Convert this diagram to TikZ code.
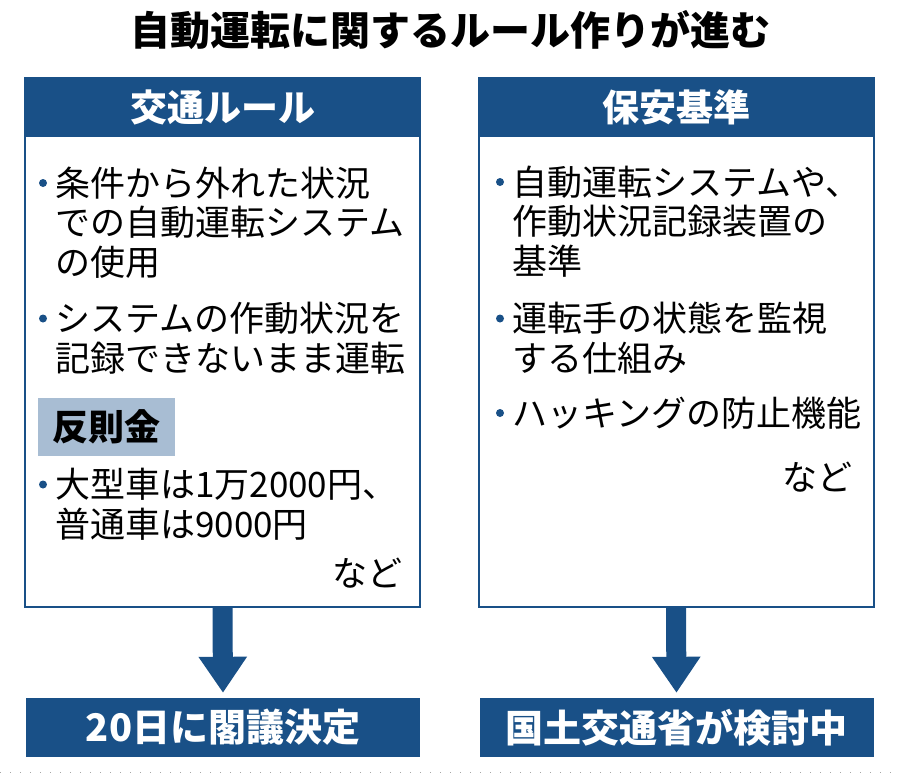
\documentclass[tikz,border=0pt]{standalone}
\usepackage{fontspec}
\setmainfont{Noto Sans CJK JP}
\usetikzlibrary{arrows.meta}
\definecolor{navy}{RGB}{25,80,135}
\definecolor{paleblue}{RGB}{168,189,211}
\newcommand{\fs}[1]{\fontsize{#1}{39.5}\selectfont}

\begin{document}
\begin{tikzpicture}[x=1pt,y=-1pt,
    panel/.style={draw=navy,line width=2pt,minimum width=395pt,minimum height=529pt,inner sep=0pt},
    head/.style={fill=navy,text=white,font=\fs{37}\bfseries,minimum width=397pt,minimum height=59pt,inner sep=0pt},
    result/.style={fill=navy,text=white,font=\fs{38}\bfseries,minimum width=394pt,minimum height=59pt,inner sep=0pt},
    item/.style={anchor=base west,align=left,inner sep=0pt,font=\fs{35}},
    etc/.style={anchor=base east,inner sep=0pt,font=\fs{35}},
    dot/.style={fill=navy},
    flow/.style={navy,line width=20pt,-{Triangle[width=46pt,length=36pt]},shorten >=5pt}]
    \useasboundingbox (0,0) rectangle (900,774);
    \node[font=\fs{40}\bfseries,inner sep=0pt] (title) at (450,30)
      {自動運転に関するルール作りが進む};
    % left column (items sit on the baseline of their last line)
    \node[panel] (lbox) at (222.5,342.5) {};
    \node[head] (lhead) at (222.5,107.5) {交通ルール};
    \node[item] (l1) at (55,275)
      {条件から外れた状況\\での自動運転システム\\の使用};
    \node[item] (l2) at (55,371)
      {システムの作動状況を\\記録できないまま運転};
    \node[fill=paleblue,minimum width=137pt,minimum height=58pt,inner sep=0pt,
      font=\fs{36}\bfseries] (fine) at (106.5,427) {反則金};
    \node[item] (l3) at (55,537)
      {大型車は1万2000円、\\普通車は9000円};
    \node[etc] (letc) at (403,586) {など};
    \fill[dot] ([shift={(-12,-92)}]l1.base west) circle (4);
    \fill[dot] ([shift={(-12,-52.5)}]l2.base west) circle (4);
    \fill[dot] ([shift={(-12,-52.5)}]l3.base west) circle (4);
    % right column
    \node[panel] (rbox) at (676,342.5) {};
    \node[head] (rhead) at (676,107.5) {保安基準};
    \node[item] (r1) at (512,274)
      {自動運転システムや、\\作動状況記録装置の\\基準};
    \node[item] (r2) at (512,371)
      {運転手の状態を監視\\する仕組み};
    \node[item] (r3) at (512,426) {ハッキングの防止機能};
    \node[etc] (retc) at (853,490) {など};
    \fill[dot] ([shift={(-12,-92)}]r1.base west) circle (4);
    \fill[dot] ([shift={(-12,-52.5)}]r2.base west) circle (4);
    \fill[dot] ([shift={(-12,-13)}]r3.base west) circle (4);
    % outcomes
    \node[result] (lres) at (223,727.5) {20日に閣議決定};
    \node[result] (rres) at (676.5,727.5) {国土交通省が検討中};
    \draw[flow] (lbox.south) -- (lres.north);
    \draw[flow] (rbox.south) -- (rres.north);
    \draw[black!35,line width=1pt,dash pattern=on 1pt off 9pt] (0,772) -- (900,772);
  \end{tikzpicture}
\end{document}
